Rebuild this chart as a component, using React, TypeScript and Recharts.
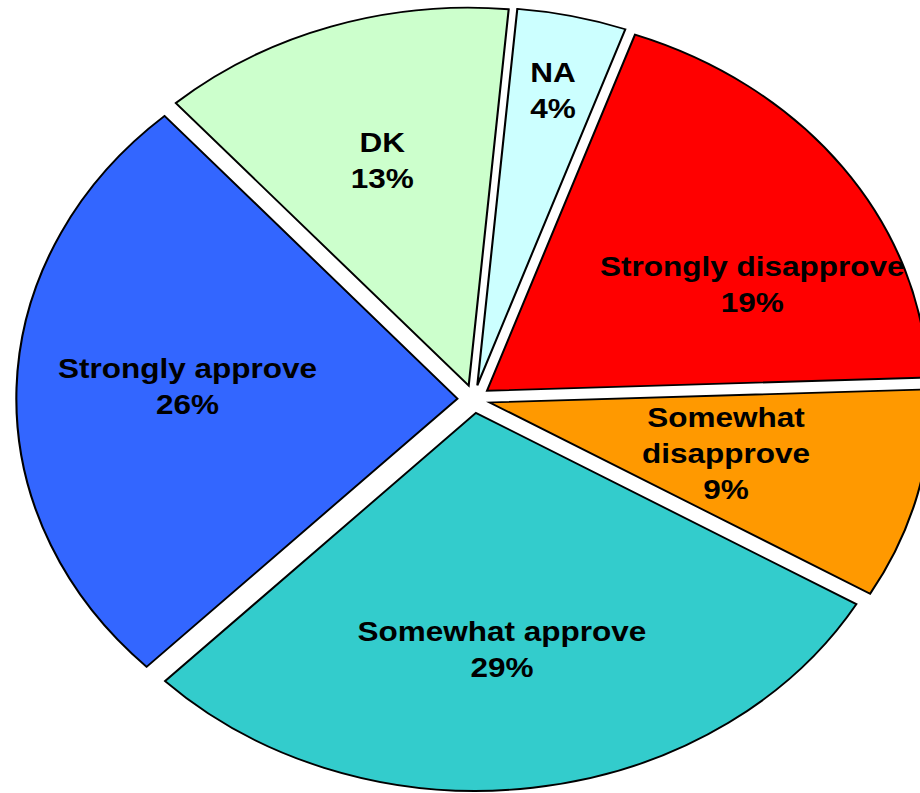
import { PieChart, Pie, Cell, Sector } from 'recharts'

// slices listed clockwise from the top
const categories = ['NA', 'Strongly disapprove', 'Somewhat disapprove', 'Somewhat approve', 'Strongly approve', 'DK']
const shares = [4, 19, 9, 29, 26, 13]
const colors = ['#CCFFFF', '#FF0000', '#FF9900', '#33CCCC', '#3366FF', '#CCFFCC']

const data = categories.map((name, i) => ({ name, value: shares[i] }))

const RAD = Math.PI / 180
const STRETCH = 1.167 // the source picture is a round pie pulled wider
const EXPLODE = 14
const FONT = 27
const LINE = 36

// where each label sits, as a fraction of the radius (and an angle when it is pushed aside)
const labelSpot: Record<string, { r?: number; angle?: number }> = {
  NA: { r: 0.836 },
  'Strongly disapprove': { r: 0.7, angle: 25.6 },
  'Somewhat disapprove': { r: 0.59 },
  'Somewhat approve': { r: 0.667, angle: -84.5 },
  'Strongly approve': { r: 0.65, angle: 177 },
  DK: { r: 0.664 },
}
const wrapped = ['Somewhat disapprove']

const ExplodedSlice = (props: any) => {
  const { cx, cy, innerRadius, outerRadius, startAngle, endAngle, fill } = props
  const mid = ((startAngle + endAngle) / 2) * RAD
  return (
    <Sector
      cx={cx + EXPLODE * Math.cos(mid)}
      cy={cy - EXPLODE * Math.sin(mid)}
      innerRadius={innerRadius}
      outerRadius={outerRadius}
      startAngle={startAngle}
      endAngle={endAngle}
      fill={fill}
      stroke="#000"
      strokeWidth={1.8}
    />
  )
}

const renderLabel = (p: any) => {
  const { cx, cy, midAngle, outerRadius, name, value } = p
  const spot = labelSpot[name] || {}
  const ang = (spot.angle ?? midAngle) * RAD
  const r = outerRadius * (spot.r ?? 0.65)
  const x = cx + r * Math.cos(ang)
  const y = cy - r * Math.sin(ang)
  const lines = wrapped.includes(name) ? name.split(' ') : [name]
  lines.push(value + '%')
  const y0 = y - ((lines.length - 1) * LINE) / 2 + FONT * 0.35
  return (
    <text
      x={x}
      y={y0}
      textAnchor="middle"
      fill="#000"
      fontFamily="'Liberation Sans', Arial, sans-serif"
      fontWeight="bold"
      fontSize={FONT}
    >
      {lines.map((l, i) => (
        <tspan key={i} x={x} y={y0 + i * LINE}>
          {l}
        </tspan>
      ))}
    </text>
  )
}

export default function App() {
  return (
    <div
      style={{
        position: 'absolute',
        left: 0,
        top: 0,
        width: 920,
        height: 793,
        overflow: 'hidden',
        background: '#fff',
      }}
    >
      <div style={{ width: 800, height: 793, transform: `scaleX(${STRETCH})`, transformOrigin: '0 0' }}>
        <PieChart width={800} height={793} margin={{ top: 0, right: 0, bottom: 0, left: 0 }}>
          <Pie
            data={data}
            dataKey="value"
            nameKey="name"
            cx={406}
            cy={399}
            innerRadius={0}
            outerRadius={378}
            startAngle={84.8}
            endAngle={-275.2}
            shape={ExplodedSlice}
            label={renderLabel}
            labelLine={false}
            isAnimationActive={false}
          >
            {data.map((d, i) => (
              <Cell key={d.name} fill={colors[i]} />
            ))}
          </Pie>
        </PieChart>
      </div>
    </div>
  )
}
